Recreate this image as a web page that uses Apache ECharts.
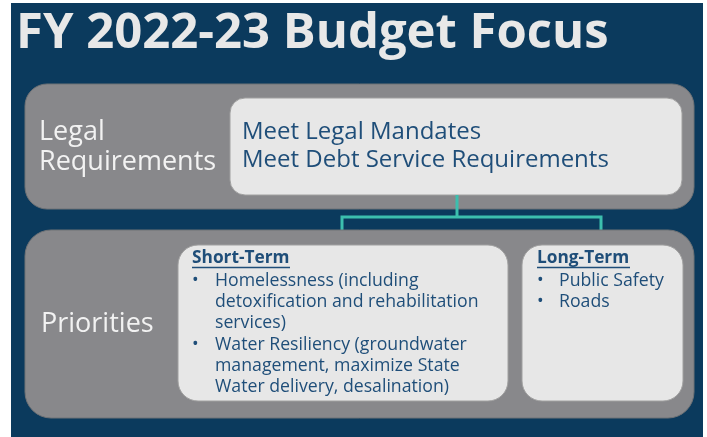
<!DOCTYPE html>
<html>
<head>
<meta charset="utf-8">
<script src="https://cdn.jsdelivr.net/npm/echarts@6/dist/echarts.min.js"></script>
<style>
  html, body { margin: 0; padding: 0; background: #fff; }
  #main { width: 707px; height: 437px; }
</style>
</head>
<body>
<div id="main"></div>
<script>
// texts of the slide
const title = 'FY 2022-23 Budget Focus';
const legalLabel = ['Legal', 'Requirements'];
const legalItems = ['Meet Legal Mandates', 'Meet Debt Service Requirements'];
const priorityLabel = 'Priorities';
const shortTermHead = 'Short-Term';
// each bullet item keeps its wrapped lines
const shortTermItems = [
  ['Homelessness (including', 'detoxification and rehabilitation', 'services)'],
  ['Water Resiliency (groundwater', 'management, maximize State', 'Water delivery, desalination)']
];
const longTermHead = 'Long-Term';
const longTermItems = [['Public Safety'], ['Roads']];

const NAVY = '#0b3a5d';
const GRAY = '#88888b';
const BOX = '#e7e7e7';
const INK = '#1f4e79';
const TEAL = '#3cbfae';
const FONT = '"Open Sans", sans-serif';

const chart = echarts.init(document.getElementById('main'));

function txt(x, y, text, size, color, weight) {
  return {
    type: 'text', x: x, y: y,
    style: {
      text: text, fill: color, fontSize: size, fontFamily: FONT,
      fontWeight: weight || 'normal', verticalAlign: 'middle', align: 'left'
    }
  };
}

function bulletList(items, bx, tx, y0, step) {
  const out = [];
  let y = y0;
  items.forEach(function (lines) {
    out.push(txt(bx, y, '•', 17.7, INK));
    lines.forEach(function (l) {
      out.push(txt(tx, y, l, 17.7, INK));
      y += step;
    });
  });
  return out;
}

let els = [
  { type: 'rect', shape: { x: 11, y: 3, width: 692, height: 434 }, style: { fill: NAVY } },
  txt(16, 34, title, 49, '#e8e8e8', 'bold'),
  // legal panel
  { type: 'rect', shape: { x: 25, y: 84, width: 669, height: 125, r: 22 },
    style: { fill: GRAY, stroke: '#6f7276', lineWidth: 1 } },
  { type: 'rect', shape: { x: 230, y: 98, width: 452, height: 97, r: 15 },
    style: { fill: BOX, stroke: '#a0a0a0', lineWidth: 1 } },
  txt(39, 132, legalLabel[0], 27, '#f2f2f2'),
  txt(39, 162, legalLabel[1], 27, '#f2f2f2'),
  txt(242, 132, legalItems[0], 24, INK),
  txt(242, 160, legalItems[1], 24, INK),
  // connector
  { type: 'polyline', shape: { points: [[457, 195], [457, 217]] }, style: { stroke: TEAL, lineWidth: 3 } },
  { type: 'polyline', shape: { points: [[342, 245], [342, 217], [601, 217], [601, 245]] },
    style: { stroke: TEAL, lineWidth: 3, fill: null } },
  // priorities panel
  { type: 'rect', shape: { x: 25, y: 230, width: 669, height: 188, r: 26 },
    style: { fill: GRAY, stroke: '#6f7276', lineWidth: 1 } },
  { type: 'rect', shape: { x: 178, y: 245, width: 330, height: 156, r: 20 },
    style: { fill: BOX, stroke: '#a0a0a0', lineWidth: 1 } },
  { type: 'rect', shape: { x: 522, y: 245, width: 161, height: 156, r: 20 },
    style: { fill: BOX, stroke: '#a0a0a0', lineWidth: 1 } },
  txt(41, 324, priorityLabel, 27, '#f2f2f2'),
  txt(192, 258, shortTermHead, 17.3, INK, 'bold'),
  { type: 'line', shape: { x1: 192, y1: 267.5, x2: 290, y2: 267.5 }, style: { stroke: INK, lineWidth: 1.4 } },
  txt(537, 258, longTermHead, 17.3, INK, 'bold'),
  { type: 'line', shape: { x1: 537, y1: 267.5, x2: 630, y2: 267.5 }, style: { stroke: INK, lineWidth: 1.4 } }
];
els = els.concat(bulletList(shortTermItems, 192, 215, 281, 21.2));
els = els.concat(bulletList(longTermItems, 537, 559, 281, 21));

chart.setOption({
  backgroundColor: '#fff',
  animation: false,
  graphic: { elements: els }
});
</script>
</body>
</html>
